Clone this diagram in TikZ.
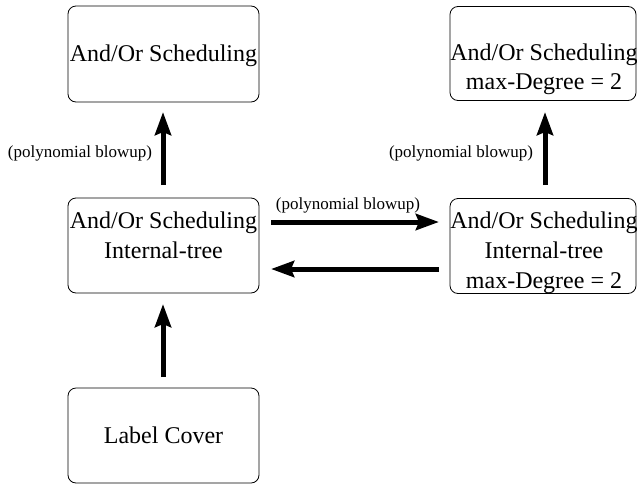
\documentclass[tikz,border=0pt]{standalone}
\usepackage{fontspec}
\setmainfont{Liberation Serif}
\usetikzlibrary{arrows.meta}
\begin{document}
\begin{tikzpicture}[x=1pt,y=-1pt,
  box/.style={draw,rounded corners=8pt,line width=0.8pt,inner sep=0pt},
  txt/.style={font=\fontsize{24}{30}\selectfont,anchor=base,inner sep=0pt},
  lbl/.style={font=\fontsize{17}{20}\selectfont,anchor=base,inner sep=0pt},
  conn/.style={line width=5pt,-{Stealth[length=23pt,width=16pt,inset=3pt]}}]
\useasboundingbox (0,0) rectangle (637,485);
% boxes
\node[box,minimum width=191pt,minimum height=96pt] (top) at (163.5,54) {};
\node[box,minimum width=191pt,minimum height=95pt] (tree) at (163.5,245.5) {};
\node[box,minimum width=191pt,minimum height=95pt] (lc) at (163.5,435.5) {};
\node[box,minimum width=186pt,minimum height=94pt] (topdeg) at (543,53.5) {};
\node[box,minimum width=186pt,minimum height=95pt] (treedeg) at (543,246) {};
% box texts
\node[txt] (t1) at (163.5,61) {And/Or Scheduling};
\node[txt] (t2) at (163.5,228) {And/Or Scheduling};
\node[txt] (t3) at (163.5,258) {Internal-tree};
\node[txt] (t4) at (163.5,443) {Label Cover};
\node[txt] (t5) at (544,60) {And/Or Scheduling};
\node[txt] (t6) at (544,89) {max-Degree = 2};
\node[txt] (t7) at (544,228) {And/Or Scheduling};
\node[txt] (t8) at (544,258) {Internal-tree};
\node[txt] (t9) at (544,288) {max-Degree = 2};
% connector end points
\coordinate (a1) at (163,185);
\coordinate (a2) at (163,112);
\coordinate (b1) at (163,377);
\coordinate (b2) at (163,304);
\coordinate (c1) at (545,185);
\coordinate (c2) at (545,112);
\coordinate (d1) at (271,222);
\coordinate (d2) at (439,222);
\coordinate (e1) at (439,269);
\coordinate (e2) at (271,269);
\draw[conn] (a1) -- (a2);
\draw[conn] (b1) -- (b2);
\draw[conn] (c1) -- (c2);
\draw[conn] (d1) -- (d2);
\draw[conn] (e1) -- (e2);
% labels
\node[lbl] (l1) at (80,157) {(polynomial blowup)};
\node[lbl] (l2) at (461,157) {(polynomial blowup)};
\node[lbl] (l3) at (348,209) {(polynomial blowup)};
\end{tikzpicture}
\end{document}
